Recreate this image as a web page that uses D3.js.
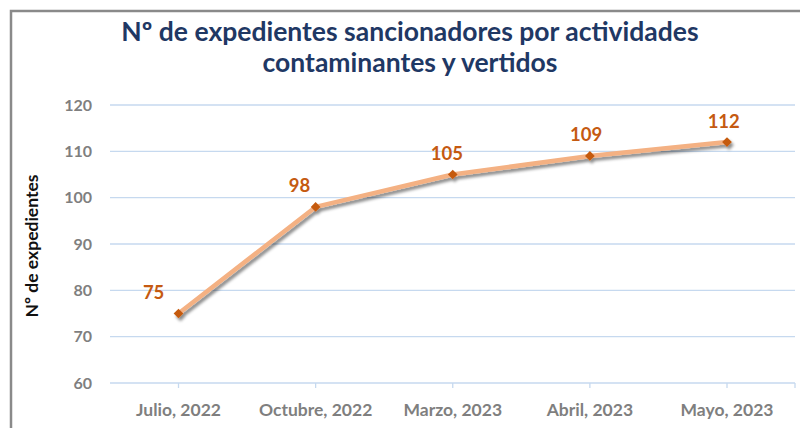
<!DOCTYPE html>
<html><head><meta charset="utf-8">
<script src="https://cdn.jsdelivr.net/npm/d3@7"></script>
<style>body{margin:0;background:#fff;}svg{display:block;}</style>
</head><body>
<svg id="c" width="800" height="428"></svg>
<script>
const categories = ["Julio, 2022", "Octubre, 2022", "Marzo, 2023", "Abril, 2023", "Mayo, 2023"];
const values = [75, 98, 105, 109, 112];
const yTicks = [60, 70, 80, 90, 100, 110, 120];
const titleLines = ["Nº de expedientes sancionadores por actividades", "contaminantes y vertidos"];
const yTitle = "Nº de expedientes";

const svg = d3.select("#c");
const font = "Lato, 'Open Sans', sans-serif";

// frame
svg.append("path").attr("d","M11,428 V11 H800").attr("fill","none").attr("stroke","#8a8a8a").attr("stroke-width",2.5);

const defs = svg.append("defs");
const f = defs.append("filter").attr("id","sh").attr("x","-10%").attr("y","-10%").attr("width","130%").attr("height","140%");
f.append("feDropShadow").attr("dx",2).attr("dy",3).attr("stdDeviation",1.5).attr("flood-color","#000").attr("flood-opacity",0.45);

const x = d3.scalePoint().domain(categories).range([178.5, 727]).padding(0);
const y = d3.scaleLinear().domain([60,120]).range([383,105]);
const left = 110, right = 795;

// gridlines
svg.append("g").selectAll("line").data(yTicks).join("line")
  .attr("x1",left).attr("x2",right).attr("y1",d=>y(d)).attr("y2",d=>y(d))
  .attr("stroke","#c6d9ef").attr("stroke-width",1.3);

// x ticks
const xt = categories.map(c=>x(c)).concat([right]);
svg.append("g").selectAll("line").data(xt).join("line")
  .attr("x1",d=>d).attr("x2",d=>d).attr("y1",y(60)).attr("y2",y(60)+5)
  .attr("stroke","#c6d9ef").attr("stroke-width",1.3);

// y tick labels
svg.append("g").selectAll("text").data(yTicks).join("text")
  .attr("x",92).attr("y",d=>y(d)).attr("dy","0.35em").attr("text-anchor","end")
  .attr("font-family",font).attr("font-weight","bold").attr("font-size",16).attr("fill","#7f7f7f")
  .text(d=>d);

// x labels
svg.append("g").selectAll("text").data(categories).join("text")
  .attr("x",d=>x(d)).attr("y",410).attr("dy","0.35em").attr("text-anchor","middle")
  .attr("font-family",font).attr("font-weight","bold").attr("font-size",17.5).attr("fill","#7f7f7f")
  .text(d=>d);

// y title
svg.append("text").attr("transform",`translate(38,${(y(60)+y(120))/2+2}) rotate(-90)`)
  .attr("text-anchor","middle").attr("font-family",font).attr("font-weight","bold")
  .attr("font-size",17.5).attr("fill","#111").text(yTitle);

// title
svg.append("g").selectAll("text").data(titleLines).join("text")
  .attr("x",410).attr("y",(d,i)=>32+i*31).attr("dy","0.35em").attr("text-anchor","middle")
  .attr("font-family",font).attr("font-weight","bold").attr("font-size",26.5).attr("fill","#1f3864")
  .text(d=>d);

// line
const pts = categories.map((c,i)=>({c, v:values[i], i}));
const line = d3.line().x(d=>x(d.c)).y(d=>y(d.v));
const g = svg.append("g").attr("filter","url(#sh)");
g.append("path").datum(pts).attr("d",line).attr("fill","none")
  .attr("stroke","#f4b183").attr("stroke-width",4.5).attr("stroke-linejoin","round");
g.selectAll("path.m").data(pts).join("path").attr("class","m")
  .attr("d",d3.symbol().type(d3.symbolDiamond2).size(60))
  .attr("transform",d=>`translate(${x(d.c)},${y(d.v)})`).attr("fill","#c55a11");

// local slope for label nudging
function slope(i){
  const s = [];
  if (i>0) s.push(Math.abs((y(pts[i].v)-y(pts[i-1].v))/(x(pts[i].c)-x(pts[i-1].c))));
  if (i<pts.length-1) s.push(Math.abs((y(pts[i+1].v)-y(pts[i].v))/(x(pts[i+1].c)-x(pts[i].c))));
  return d3.mean(s);
}

// data labels
svg.append("g").selectAll("text").data(pts).join("text")
  .attr("x",d=>x(d.c)-32*slope(d.i)).attr("y",d=>y(d.v)-21).attr("dy","0.35em").attr("text-anchor","middle")
  .attr("font-family",font).attr("font-weight","bold").attr("font-size",18.5).attr("fill","#c55a11")
  .text(d=>d.v);
</script>
</body></html>
